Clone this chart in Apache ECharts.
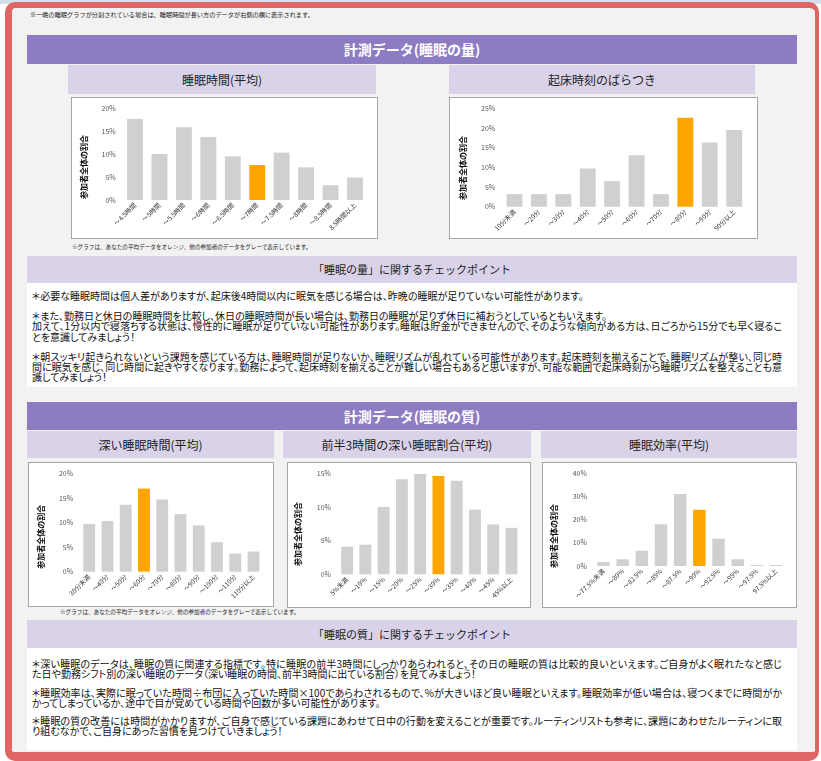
<!DOCTYPE html>
<html><head><meta charset="utf-8">
<script src="https://cdn.jsdelivr.net/npm/echarts@6/dist/echarts.min.js"></script>
<style>
*{box-sizing:border-box}
html,body{margin:0;padding:0}
body{width:821px;height:761px;position:relative;overflow:hidden;background:#fff;font-family:"Noto Sans CJK JP","Noto Sans",sans-serif;color:#1a1a1a}
.abs{position:absolute}
.strip{left:0;top:0;width:821px;height:4px;background:#d6e0ea}
.frame{left:5px;top:2px;width:814px;height:759px;border-style:solid;border-color:#e06666;border-width:6px 4px 9px 7px;border-radius:10px;background:#f2f2f2}
.ph{background:#8e7cc3;color:#fff;font-weight:bold;font-size:14px;text-align:center}
.sh{background:#d9d2e9;color:#222;font-size:12px;text-align:center}
.ch{background:#d9d2e9;color:#222;font-size:11px;text-align:center}
.cb{background:#fff;border:1px solid #a6a6a6}
.cb>div{position:absolute;left:0;top:0;width:100%;height:100%}
.note{font-size:5.6px;color:#222;white-space:nowrap;line-height:7px}
.tb{background:#fff;font-size:10px;line-height:10.3px;padding-left:5px;font-feature-settings:"palt";white-space:nowrap;color:#111}
.tb p{margin:0 0 9.7px 0}
.tb2 p{margin:0 0 8px 0}
.tb .j{display:block;width:750px;text-align:justify;text-align-last:justify}
</style></head>
<body>
<div class="abs strip"></div>
<div class="abs frame"></div>
<div class="abs note" style="left:30px;top:11px;font-size:6.2px">※一晩の睡眠グラフが分割されている場合は、睡眠時間が長い方のデータが右側の欄に表示されます。</div>

<div class="abs ph" style="left:27px;top:35px;width:770px;height:29px;line-height:29px">計測データ(睡眠の量)</div>
<div class="abs sh" style="left:68px;top:65px;width:308px;height:29px;line-height:29px">睡眠時間(平均)</div>
<div class="abs sh" style="left:449px;top:65px;width:306px;height:29px;line-height:29px">起床時刻のばらつき</div>
<div class="abs cb" style="left:71px;top:97px;width:307px;height:142px"><div id="c1"></div></div>
<div class="abs cb" style="left:449px;top:97px;width:309px;height:142px"><div id="c2"></div></div>
<div class="abs note" style="left:72px;top:244px">※グラフは、あなたの平均データをオレンジ、他の参加者のデータをグレーで表示しています。</div>

<div class="abs ch" style="left:27px;top:256px;width:770px;height:27px;line-height:27px">「睡眠の量」に関するチェックポイント</div>
<div class="abs tb" style="left:27px;top:283px;width:770px;height:104px;padding-top:8px">
<p>＊必要な睡眠時間は個人差がありますが、起床後4時間以内に眠気を感じる場合は、昨晩の睡眠が足りていない可能性があります。</p>
<p>＊また、勤務日と休日の睡眠時間を比較し、休日の睡眠時間が長い場合は、勤務日の睡眠が足りず休日に補おうとしているともいえます。<br><span class="j">加えて、1分以内で寝落ちする状態は、慢性的に睡眠が足りていない可能性があります。睡眠は貯金ができませんので、そのような傾向がある方は、日ごろから15分でも早く寝るこ</span>とを意識してみましょう！</p>
<p><span class="j">＊朝スッキリ起きられないという課題を感じている方は、睡眠時間が足りないか、睡眠リズムが乱れている可能性があります。起床時刻を揃えることで、睡眠リズムが整い、同じ時</span><span class="j">間に眠気を感じ、同じ時間に起きやすくなります。勤務によって、起床時刻を揃えることが難しい場合もあると思いますが、可能な範囲で起床時刻から睡眠リズムを整えることも意</span>識してみましょう！</p>
</div>

<div class="abs ph" style="left:27px;top:402px;width:770px;height:28px;line-height:28px">計測データ(睡眠の質)</div>
<div class="abs sh" style="left:27px;top:431px;width:247px;height:27px;line-height:27px">深い睡眠時間(平均)</div>
<div class="abs sh" style="left:283px;top:431px;width:248px;height:27px;line-height:27px">前半3時間の深い睡眠割合(平均)</div>
<div class="abs sh" style="left:541px;top:431px;width:256px;height:27px;line-height:27px">睡眠効率(平均)</div>
<div class="abs cb" style="left:28px;top:462px;width:246px;height:145px"><div id="c3"></div></div>
<div class="abs cb" style="left:287px;top:462px;width:244px;height:146px"><div id="c4"></div></div>
<div class="abs cb" style="left:542px;top:462px;width:255px;height:146px"><div id="c5"></div></div>
<div class="abs note" style="left:60px;top:609px">※グラフは、あなたの平均データをオレンジ、他の参加者のデータをグレーで表示しています。</div>

<div class="abs ch" style="left:27px;top:620px;width:770px;height:28px;line-height:28px">「睡眠の質」に関するチェックポイント</div>
<div class="abs tb tb2" style="left:27px;top:648px;width:770px;height:102px;padding-top:11px">
<p><span class="j">＊深い睡眠のデータは、睡眠の質に関連する指標です。特に睡眠の前半3時間にしっかりあらわれると、その日の睡眠の質は比較的良いといえます。ご自身がよく眠れたなと感じ</span>た日や勤務シフト別の深い睡眠のデータ（深い睡眠の時間、前半3時間に出ている割合）を見てみましょう！</p>
<p><span class="j">＊睡眠効率は、実際に眠っていた時間÷布団に入っていた時間×100であらわされるもので、%が大きいほど良い睡眠といえます。睡眠効率が低い場合は、寝つくまでに時間がか</span>かってしまっているか、途中で目が覚めている時間や回数が多い可能性があります。</p>
<p><span class="j">＊睡眠の質の改善には時間がかかりますが、ご自身で感じている課題にあわせて日中の行動を変えることが重要です。ルーティンリストも参考に、課題にあわせたルーティンに取</span>り組むなかで、ご自身にあった習慣を見つけていきましょう！</p>
</div>

<script>
const FONT = '"Noto Sans CJK JP", sans-serif';
const AXIS_NAME = '参加者全体の割合';

// 睡眠時間(平均)
const sleepTimeCats = ['～4.5時間','～5時間','～5.5時間','～6時間','～6.5時間','～7時間','～7.5時間','～8時間','～8.5時間','8.5時間以上'];
const sleepTimeVals = [17.6, 10.0, 15.8, 13.7, 9.5, 7.6, 10.3, 7.1, 3.2, 4.9];
const sleepTimeMine = 5;
const sleepTimeTicks = [0, 5, 10, 15, 20];

// 起床時刻のばらつき
const wakeVarCats = ['10分未満','～20分','～30分','～40分','～50分','～60分','～70分','～80分','～90分','90分以上'];
const wakeVarVals = [3.2, 3.2, 3.2, 9.7, 6.5, 13.1, 3.2, 22.6, 16.3, 19.5];
const wakeVarMine = 7;
const wakeVarTicks = [0, 5, 10, 15, 20, 25];

// 深い睡眠時間(平均)
const deepTimeCats = ['30分未満','～40分','～50分','～60分','～70分','～80分','～90分','～100分','～110分','110分以上'];
const deepTimeVals = [9.7, 10.3, 13.6, 16.9, 14.7, 11.7, 9.4, 6.0, 3.7, 4.1];
const deepTimeMine = 3;
const deepTimeTicks = [0, 5, 10, 15, 20];

// 前半3時間の深い睡眠割合(平均)
const deepRatioCats = ['5%未満','～10%','～15%','～20%','～25%','～30%','～35%','～40%','～45%','45%以上'];
const deepRatioVals = [4.1, 4.4, 10.0, 14.1, 14.9, 14.6, 13.9, 9.6, 7.4, 6.9];
const deepRatioMine = 5;
const deepRatioTicks = [0, 5, 10, 15];

// 睡眠効率(平均)
const effCats = ['～77.5%未満','～80%','～82.5%','～85%','～87.5%','～90%','～92.5%','～95%','～97.5%','97.5%以上'];
const effVals = [1.7, 2.9, 6.6, 18.0, 31.1, 24.3, 11.8, 2.9, 0.4, 0.4];
const effMine = 5;
const effTicks = [0, 10, 20, 30, 40];

function draw(id, cats, vals, mine, ticks, g, nameX, nameY) {
  const chart = echarts.init(document.getElementById(id), null, {renderer: 'canvas'});
  chart.setOption({
    animation: false,
    grid: {left: g[0], right: g[1], top: g[2], bottom: g[3], containLabel: false, outerBoundsMode: 'none'},
    xAxis: {
      type: 'category', data: cats,
      axisLine: {show: false}, axisTick: {show: false},
      axisLabel: {interval: 0, rotate: 45, fontSize: 6.5, color: '#333', margin: 4, fontFamily: FONT}
    },
    yAxis: {
      type: 'value', min: ticks[0], max: ticks[ticks.length - 1], interval: ticks[1] - ticks[0],
      axisLine: {show: false}, axisTick: {show: false}, splitLine: {show: false},
      axisLabel: {formatter: '{value}%', fontSize: 7, color: '#595959', margin: 7, fontFamily: FONT}
    },
    series: [{
      type: 'bar', barCategoryGap: '35%', silent: true,
      data: vals.map((v, i) => ({value: v, itemStyle: {color: i === mine ? '#ffa500' : '#d0d0d0'}}))
    }],
    graphic: [{
      type: 'text', x: nameX, y: nameY, rotation: Math.PI / 2,
      style: {text: AXIS_NAME, fontSize: 8, fontWeight: 'bold', fontFamily: FONT, fill: '#111',
        align: 'center', verticalAlign: 'middle', textAlign: 'center', textVerticalAlign: 'middle'}
    }]
  });
}

draw('c1', sleepTimeCats, sleepTimeVals, sleepTimeMine, sleepTimeTicks, [50.8, 9.8, 10, 38], 12, 69);
draw('c2', wakeVarCats, wakeVarVals, wakeVarMine, wakeVarTicks, [52.3, 10.6, 10.3, 31.3], 13, 70);
draw('c3', deepTimeCats, deepTimeVals, deepTimeMine, deepTimeTicks, [51.1, 10.4, 10.3, 34.3], 11.7, 73.7);
draw('c4', deepRatioCats, deepRatioVals, deepRatioMine, deepRatioTicks, [50, 9.4, 10.3, 32.7], 10.3, 71);
draw('c5', effCats, effVals, effMine, effTicks, [50.9, 10.4, 10.3, 41], 11.3, 73);
</script>
</body></html>
